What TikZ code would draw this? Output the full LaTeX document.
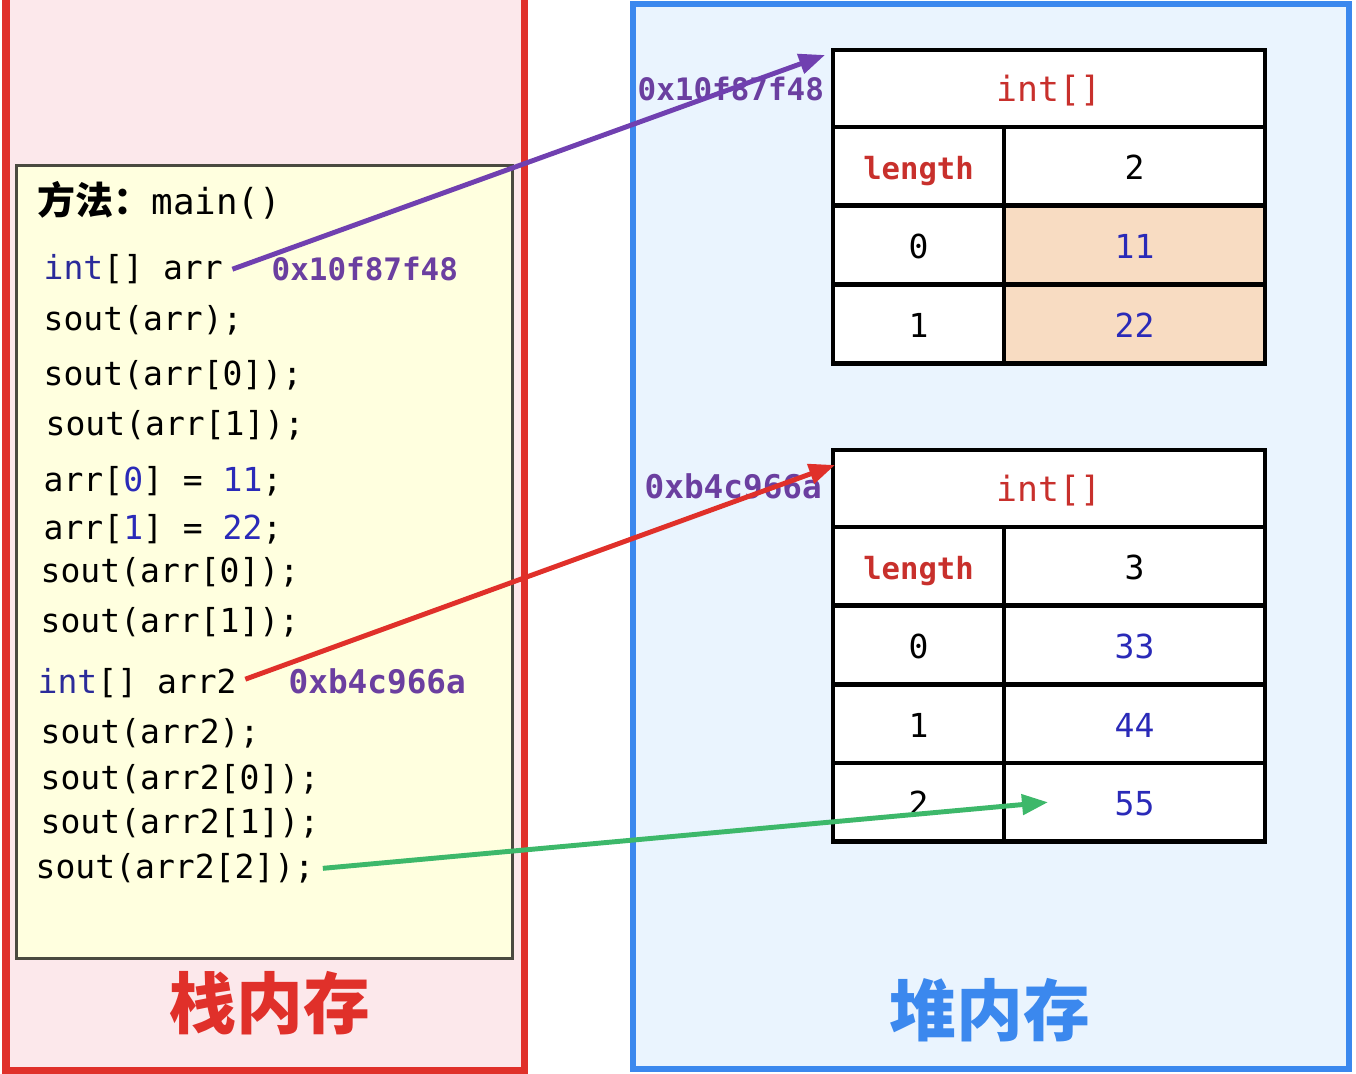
\documentclass[tikz,border=0pt]{standalone}
\usepackage{fontspec}
\setmonofont{DejaVu Sans Mono}
\newfontfamily\cjk{Noto Sans CJK SC}
\usetikzlibrary{arrows.meta}
\definecolor{stackred}{HTML}{E0302A}
\definecolor{stackfill}{HTML}{FCE8EB}
\definecolor{heapblue}{HTML}{3B88EE}
\definecolor{heapfill}{HTML}{EAF4FE}
\definecolor{methodfill}{HTML}{FFFFDF}
\definecolor{methodline}{HTML}{4A4A40}
\definecolor{kwblue}{HTML}{2B2B9A}
\definecolor{numblue}{HTML}{2A2AB8}
\definecolor{addrpurple}{HTML}{6B3FA0}
\definecolor{typered}{HTML}{C8302C}
\definecolor{cellfill}{HTML}{F8DCC2}
\definecolor{ptrpurple}{HTML}{7040B0}
\definecolor{ptrred}{HTML}{E0302A}
\definecolor{ptrgreen}{HTML}{3DB86A}
\newcommand{\codesize}{\fontsize{9.4}{11}\selectfont\ttfamily}
\tikzset{
    codeline/.style={anchor=mid west,inner sep=0pt,font=\codesize},
    addr/.style={anchor=mid west,inner sep=0pt,text=addrpurple},
    cell/.style={draw,very thick,anchor=north west,inner sep=0pt,outer sep=0pt,
        minimum height=0.785cm,text height=1.9ex,text depth=0.2ex,font=\codesize},
    ptr/.style={line width=1.4pt,-{Triangle[length=0.26cm,width=0.2cm]}}
}
\newcommand{\slot}[5] {
    \node[cell,minimum width=1.71cm,fill=white] (#1i) at (8.33, {#2}) {#3};
    \node[cell,minimum width=2.61cm,fill={#5},text=numblue] (#1v) at (10.04, {#2}) {#4};
}
\newcommand{\lenrow}[3] {
    \node[cell,minimum width=1.71cm,fill=white,text=typered,
        font=\fontsize{8.7}{10}\selectfont\ttfamily\bfseries] (#1l) at (8.33, {#2}) {length};
    \node[cell,minimum width=2.61cm,fill=white] (#1n) at (10.04, {#2}) {#3};
}

\begin{document}
\begin{tikzpicture}[y=-1cm]
    \useasboundingbox (0,0) rectangle (13.56,10.74);
    \clip (0,0) rectangle (13.56,10.74);
    \draw[stackred,fill=stackfill,line width=0.07cm] (0.06,-0.2) rectangle (5.24,10.70);
    \draw[heapblue,fill=heapfill,line width=0.06cm] (6.33,0.04) rectangle (13.49,10.69);
    \draw[methodline,fill=methodfill,line width=0.03cm] (0.16,1.66) rectangle (5.12,9.58);

    \node[anchor=mid west,inner sep=0pt] (method) at (0.37,2.07)
        {{\cjk\bfseries\fontsize{10.8}{12}\selectfont 方法：}{\fontsize{10.2}{12}\selectfont\ttfamily main()}};
    \node[codeline] (arr) at (0.43,2.72) {\textcolor{kwblue}{int}[] arr};
    \node[addr,font=\fontsize{8.8}{10}\selectfont\ttfamily\bfseries] (arrval) at (2.71,2.73) {0x10f87f48};
    \node[codeline] (s1) at (0.43,3.23) {sout(arr);};
    \node[codeline] (s2) at (0.43,3.78) {sout(arr[0]);};
    \node[codeline] (s3) at (0.45,4.28) {sout(arr[1]);};
    \node[codeline] (set0) at (0.43,4.84) {arr[\textcolor{numblue}{0}] = \textcolor{numblue}{11};};
    \node[codeline] (set1) at (0.43,5.32) {arr[\textcolor{numblue}{1}] = \textcolor{numblue}{22};};
    \node[codeline] (s4) at (0.40,5.75) {sout(arr[0]);};
    \node[codeline] (s5) at (0.40,6.25) {sout(arr[1]);};
    \node[codeline] (arr2) at (0.37,6.86) {\textcolor{kwblue}{int}[] arr2};
    \node[addr,font=\fontsize{9.3}{10}\selectfont\ttfamily\bfseries] (arr2val) at (2.88,6.86) {0xb4c966a};
    \node[codeline] (s6) at (0.40,7.36) {sout(arr2);};
    \node[codeline] (s7) at (0.40,7.82) {sout(arr2[0]);};
    \node[codeline] (s8) at (0.40,8.26) {sout(arr2[1]);};
    \node[codeline] (s9) at (0.35,8.71) {sout(arr2[2]);};

    \node[text=stackred,font=\cjk\bfseries\fontsize{19}{22}\selectfont] (stack) at (2.70,10.03) {栈内存};
    \node[text=heapblue,font=\cjk\bfseries\fontsize{19}{22}\selectfont] (heap) at (9.90,10.10) {堆内存};

    \node[cell,minimum width=4.32cm,minimum height=0.77cm,fill=white,text=typered,
        font=\fontsize{9.9}{12}\selectfont\ttfamily] (tabA) at (8.33,0.50) {int[]};
    \lenrow{a}{1.27}{2}
    \slot{a0}{2.06}{0}{11}{cellfill}
    \slot{a1}{2.85}{1}{22}{cellfill}
    \node[addr,font=\fontsize{8.8}{10}\selectfont\ttfamily\bfseries] (addrA) at (6.37,0.93) {0x10f87f48};

    \node[cell,minimum width=4.32cm,minimum height=0.77cm,fill=white,text=typered,
        font=\fontsize{9.9}{12}\selectfont\ttfamily] (tabB) at (8.33,4.50) {int[]};
    \lenrow{b}{5.27}{3}
    \slot{b0}{6.06}{0}{33}{white}
    \slot{b1}{6.85}{1}{44}{white}
    \slot{b2}{7.63}{2}{55}{white}
    \node[addr,font=\fontsize{9.3}{10}\selectfont\ttfamily\bfseries] (addrB) at (6.44,4.91) {0xb4c966a};

    \draw[ptr,ptrpurple] ([xshift=0.09cm,yshift=0.0cm]arr.east) -- ([xshift=-0.08cm,yshift=-0.05cm]tabA.north west);
    \draw[ptr,ptrred] ([xshift=0.08cm,yshift=0.04cm]arr2.east) -- ([xshift=0.02cm,yshift=-0.15cm]tabB.north west);
    \draw[ptr,ptrgreen] ([xshift=0.08cm]s9.east) -- ([xshift=0.44cm]b2v.west);
\end{tikzpicture}
\end{document}
